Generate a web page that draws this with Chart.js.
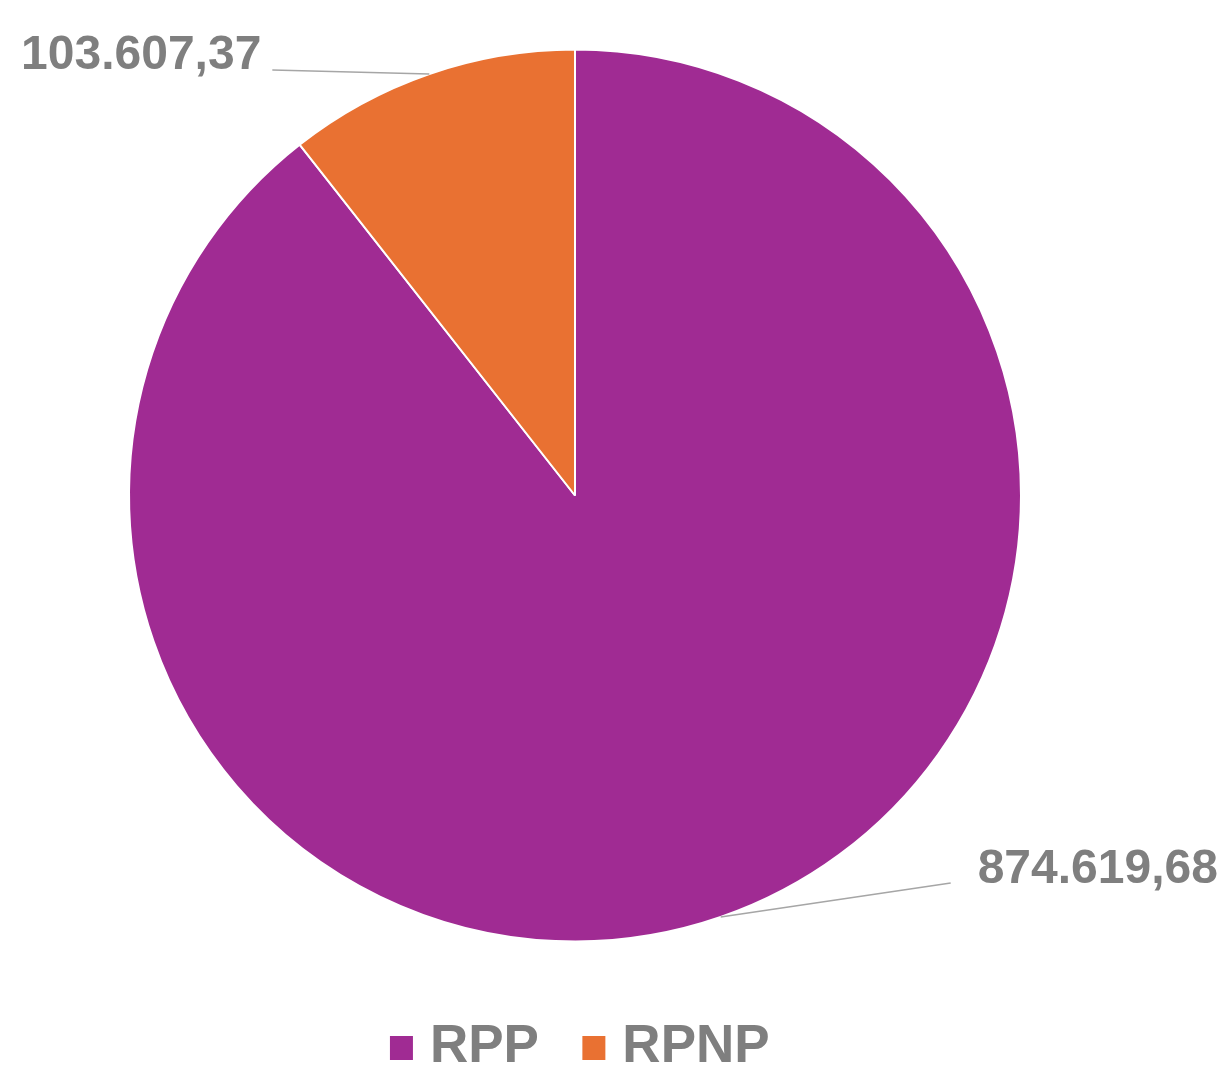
<!DOCTYPE html>
<html>
<head>
<meta charset="utf-8">
<script src="https://cdn.jsdelivr.net/npm/chart.js@4/dist/chart.umd.min.js"></script>
<style>
  html, body { margin: 0; padding: 0; background: #ffffff; overflow: hidden; }
  #wrap { width: 1220px; height: 1084px; }
</style>
</head>
<body>
<div id="wrap"><canvas id="c" width="1220" height="1084"></canvas></div>
<script>
const categories = ['RPP', 'RPNP'];
const values = [874619.68, 103607.37];
const colors = ['#A02B93', '#E97132'];

function fmt(v) {
  const parts = v.toFixed(2).split('.');
  const intPart = parts[0].replace(/\B(?=(\d{3})+(?!\d))/g, '.');
  return intPart + ',' + parts[1];
}

// label placement relative to the slice's mid-angle point on the rim
const labelPlacement = [
  { dx: 230, dy: -34, align: 'left', tx: 27, ty: 0 },
  { dx: -157, dy: -4, align: 'right', tx: -11, ty: -1 }
];

const labelPlugin = {
  id: 'sliceLabels',
  afterDatasetsDraw(chart) {
    const meta = chart.getDatasetMeta(0);
    const ctx = chart.ctx;
    ctx.save();
    meta.data.forEach((arc, i) => {
      const p = arc.getProps(['x', 'y', 'startAngle', 'endAngle', 'outerRadius'], true);
      const mid = (p.startAngle + p.endAngle) / 2;
      const ex = p.x + Math.cos(mid) * p.outerRadius;
      const ey = p.y + Math.sin(mid) * p.outerRadius;
      const pl = labelPlacement[i];
      const lx = ex + pl.dx, ly = ey + pl.dy;
      ctx.beginPath();
      ctx.moveTo(ex, ey);
      ctx.lineTo(lx, ly);
      ctx.strokeStyle = '#a6a6a6';
      ctx.lineWidth = 1.6;
      ctx.stroke();
      ctx.fillStyle = '#7f7f7f';
      ctx.font = 'bold 48px "Liberation Sans", Arial, sans-serif';
      ctx.textAlign = pl.align;
      ctx.textBaseline = 'alphabetic';
      ctx.fillText(fmt(values[i]), lx + pl.tx, ly + pl.ty);
    });
    ctx.restore();
  }
};

// legend marker: square placed closer to the label text than Chart.js' default gap
function legendMarker(color) {
  const c = document.createElement('canvas');
  c.width = 46; c.height = 24;
  const g = c.getContext('2d');
  g.fillStyle = color;
  g.fillRect(21, 0, 23, 24);
  return c;
}

new Chart(document.getElementById('c'), {
  type: 'pie',
  data: {
    labels: categories,
    datasets: [{
      data: values,
      backgroundColor: colors,
      borderColor: '#ffffff',
      borderWidth: 2
    }]
  },
  options: {
    responsive: false,
    animation: false,
    layout: { padding: { left: 128, right: 198, top: 48, bottom: 0 } },
    plugins: {
      tooltip: { enabled: false },
      legend: {
        position: 'bottom',
        align: 'center',
        title: { display: true, text: '', font: { size: 1, lineHeight: 1 }, padding: { top: 0, bottom: 43 } },
        labels: {
          usePointStyle: true,
          boxWidth: 23,
          boxHeight: 25,
          padding: 34,
          color: '#7f7f7f',
          font: { family: '"Liberation Sans", Arial, sans-serif', size: 53, weight: 'bold' },
          generateLabels(chart) {
            const items = Chart.overrides.pie.plugins.legend.labels.generateLabels(chart);
            return items.map(it => Object.assign(it, { pointStyle: legendMarker(it.fillStyle) }));
          }
        }
      }
    }
  },
  plugins: [labelPlugin]
});
</script>
</body>
</html>
